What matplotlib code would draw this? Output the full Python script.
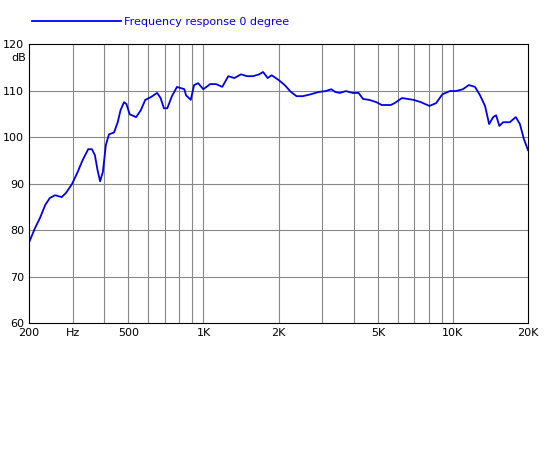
import numpy as np
import matplotlib
matplotlib.use("Agg")
import matplotlib.pyplot as plt
from matplotlib.ticker import FixedLocator, NullLocator

# frequency response
freq = [200, 211, 221, 232, 242, 254, 270, 281, 297, 313, 328, 345, 357, 367,
        376, 385, 395, 406, 418, 438, 453, 465, 480, 491, 506, 537, 561, 584,
        615, 652, 673, 694, 716, 747, 783, 838, 851, 889, 917, 952, 998, 1064,
        1123, 1189, 1257, 1330, 1414, 1494, 1580, 1673, 1733, 1809, 1876, 1998,
        2116, 2241, 2362, 2500, 2688, 2894, 3093, 3253, 3376, 3521, 3724, 3958,
        4187, 4363, 4620, 4937, 5185, 5636, 5834, 6248, 6963, 7449, 8050, 8560,
        9069, 9718, 10275, 10972, 11580, 12260, 12840, 13450, 13970, 14500,
        14900, 15350, 15900, 16900, 17870, 18560, 19250, 20000]
db = [77.4, 80.4, 82.6, 85.4, 86.9, 87.5, 87.1, 88.0, 89.9, 92.5, 95.1, 97.4,
      97.4, 96.1, 92.9, 90.5, 92.5, 98.3, 100.6, 101.0, 103.2, 105.8, 107.5,
      107.1, 104.9, 104.3, 105.8, 108.0, 108.6, 109.5, 108.4, 106.2, 106.2,
      108.8, 110.8, 110.3, 109.0, 108.0, 111.2, 111.6, 110.3, 111.4, 111.4,
      110.8, 113.1, 112.7, 113.5, 113.1, 113.1, 113.5, 114.0, 112.7, 113.3,
      112.3, 111.2, 109.7, 108.8, 108.8, 109.2, 109.7, 109.9, 110.3, 109.7,
      109.5, 109.9, 109.5, 109.5, 108.2, 108.0, 107.5, 106.9, 106.9, 107.3,
      108.4, 108.0, 107.5, 106.7, 107.3, 109.2, 109.9, 109.9, 110.3, 111.2,
      110.8, 109.0, 106.7, 102.8, 104.3, 104.7, 102.4, 103.2, 103.2, 104.3,
      102.8, 99.6, 97.2]

xticks = [200, 300, 500, 1000, 2000, 5000, 10000, 20000]
xlabels = ["200", "Hz", "500", "1K", "2K", "5K", "10K", "20K"]
grid_x = [300, 400, 500, 600, 700, 800, 900, 1000, 2000, 3000, 4000, 5000,
          6000, 7000, 8000, 9000, 10000]

fig = plt.figure(figsize=(5.5, 4.5), dpi=100)
ax = fig.add_axes([0.053, 0.282, 0.907, 0.62])
ax.set_xscale("log")
ax.set_xlim(200, 20000)
ax.set_ylim(60, 120)
for gx in grid_x:
    ax.axvline(gx, color="#888888", lw=0.8)
for gy in range(70, 120, 10):
    ax.axhline(gy, color="#888888", lw=0.8)
line, = ax.plot(freq, db, color="#0000ee", lw=1.3)

ax.xaxis.set_major_locator(FixedLocator(xticks))
ax.set_xticklabels(xlabels, fontsize=8)
ax.xaxis.set_minor_locator(NullLocator())
ax.set_yticks(range(60, 121, 10))
ax.tick_params(axis="y", labelsize=8, length=0)
ax.tick_params(axis="x", length=0)
fig.text(0.048, 0.865, "dB", ha="right", fontsize=8)

fig.legend([line], ["Frequency response 0 degree"], loc="upper left",
           bbox_to_anchor=(0.04, 0.985), frameon=False, fontsize=8,
           handlelength=8, handletextpad=0.3, labelcolor="#0000ee")

fig.savefig("out.png")
